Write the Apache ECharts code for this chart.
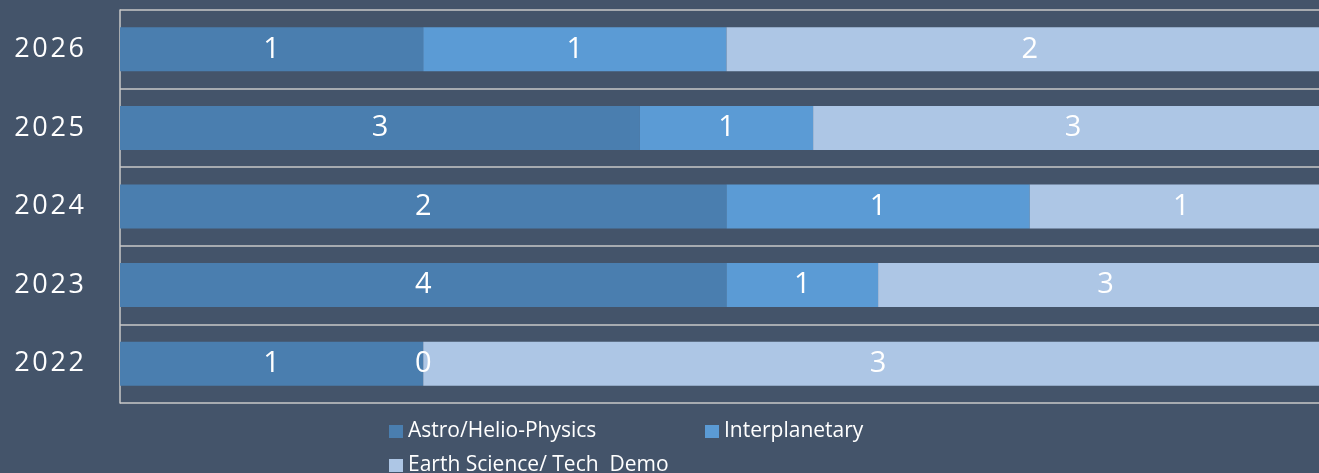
<!DOCTYPE html>
<html><head><meta charset="utf-8">
<script src="https://cdn.jsdelivr.net/npm/echarts@6/dist/echarts.min.js"></script>
<style>html,body{margin:0;padding:0;background:#44546a}#c{width:1319px;height:473px}</style>
</head><body><div id="c"></div>
<script>
const years = ['2022','2023','2024','2025','2026'];
const astro = [1,4,2,3,1];
const inter = [0,1,1,1,1];
const earth = [3,3,1,3,2];
const seriesNames = ['Astro/Helio-Physics','Interplanetary','Earth Science/ Tech  Demo'];
const colors = ['#4a7eaf','#5b9bd5','#adc6e5'];

const raw = [astro, inter, earth];
const totals = years.map((_, i) => astro[i] + inter[i] + earth[i]);

const legendPos = [[389, 421], [705, 421], [389, 455]];

const chart = echarts.init(document.getElementById('c'));
chart.setOption({
  backgroundColor: '#44546a',
  animation: false,
  grid: { left: 120, top: 10, bottom: 70, right: 0, containLabel: false },
  // the plot area of the original runs past the right edge of the picture (full width ≈ 1213px)
  xAxis: { type: 'value', min: 0, max: 1199 / 1213, show: false },
  yAxis: {
    type: 'category', data: years,
    axisLine: { show: true, lineStyle: { color: '#c8c8c8', width: 1.5 } },
    axisTick: { show: false },
    splitLine: { show: true, lineStyle: { color: '#c8c8c8', width: 1.5 } },
    axisLabel: { color: '#ffffff', fontSize: 27, fontFamily: 'Open Sans', margin: 36,
      formatter: v => v.split('').join('\u200A') }
  },
  legend: seriesNames.map((n, i) => ({
    left: legendPos[i][0], top: legendPos[i][1], padding: 0,
    itemWidth: 14, itemHeight: 13, icon: 'rect',
    textStyle: { color: '#ffffff', fontSize: 21, lineHeight: 21, fontFamily: 'Open Sans' },
    data: [n]
  })),
  series: raw.map((arr, si) => ({
    name: seriesNames[si], type: 'bar', stack: 'total', barWidth: '56%', clip: false,
    itemStyle: { color: colors[si] },
    label: { show: true, position: 'inside', color: '#ffffff', fontSize: 29, fontFamily: 'Open Sans',
      formatter: p => String(arr[p.dataIndex]) },
    data: arr.map((v, i) => v / totals[i])
  }))
});
</script></body></html>
